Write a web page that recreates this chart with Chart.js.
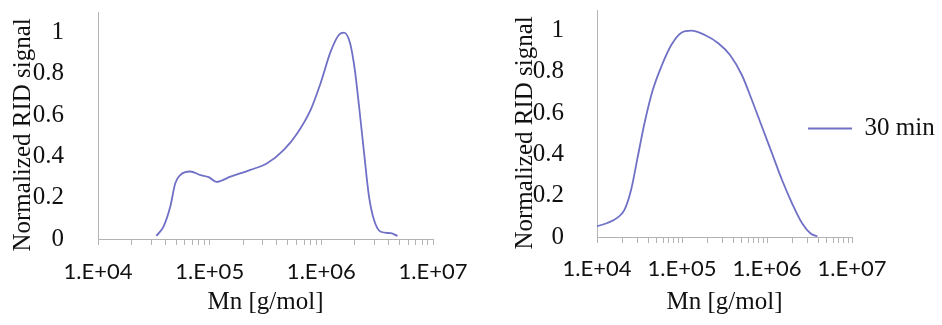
<!DOCTYPE html>
<html><head><meta charset="utf-8">
<script src="https://cdn.jsdelivr.net/npm/chart.js@4.4.0/dist/chart.umd.min.js"></script>
<style>
html,body{margin:0;padding:0;background:#fff;width:942px;height:325px;overflow:hidden}
#l{position:absolute;left:0;top:0;width:470px;height:325px}
#r{position:absolute;left:470px;top:0;width:472px;height:325px}
</style></head><body>
<div id="l"><canvas id="cl"></canvas></div>
<div id="r"><canvas id="cr"></canvas></div>
<script>
// ---- data ----
const mnLeft = [33300, 38600, 44400, 49200, 54600, 67100, 82600, 97900, 114800, 153500, 231700, 327300, 461300, 609500, 801700, 986300, 1213000, 1439000, 1596000, 1807000, 1995000, 2178000, 2415000, 2673000, 2965000, 3404000, 4188000, 4808000];
const signalLeft = [0.015, 0.06, 0.157, 0.27, 0.31, 0.327, 0.31, 0.30, 0.277, 0.302, 0.335, 0.367, 0.432, 0.513, 0.626, 0.756, 0.909, 0.99, 1.0, 0.95, 0.82, 0.642, 0.416, 0.205, 0.092, 0.035, 0.028, 0.015];
const mnRight = [10000, 13270, 17460, 20940, 25120, 30130, 36140, 45290, 57020, 74820, 98400, 129100, 185800, 267300, 367300, 505800, 663700, 873000, 1146000, 1507000, 1977000, 2600000, 3258000, 3908000];
const signalRight = [0.052, 0.068, 0.094, 0.13, 0.227, 0.388, 0.55, 0.712, 0.825, 0.93, 0.99, 1.0, 0.979, 0.939, 0.882, 0.785, 0.664, 0.534, 0.405, 0.275, 0.162, 0.065, 0.017, 0.003];
const seriesLabel = '30 min';
const xDecades = [1e4, 1e5, 1e6, 1e7];
const xTickLabels = ['1.E+04', '1.E+05', '1.E+06', '1.E+07'];
const xMinorMultipliers = [2, 3, 4, 5, 6, 7, 8, 9];
const yTickValues = [0, 0.2, 0.4, 0.6, 0.8, 1];
const yTickLabels = ['0', '0.2', '0.4', '0.6', '0.8', '1'];
const xTitle = 'Mn [g/mol]';
const yTitle = 'Normalized RID signal';

// ---- styling ----
const LINE = '#7070c6';
const AXIS = '#b3b3b3';
const TEXT = '#111111';
const SERIF = "'Liberation Serif', 'Times New Roman', serif";
const SANS = "Lato, 'Open Sans', sans-serif";

const xTickList = [];
xDecades.forEach((d, i) => {
  xTickList.push(d);
  if (i < xDecades.length - 1) xMinorMultipliers.forEach(m => xTickList.push(d * m));
});
xTickList.sort((a, b) => a - b);

const legendPlacer = {
  id: 'legendPlacer',
  afterLayout(chart, args, opts) {
    const lg = chart.legend;
    if (!lg || !opts || opts.left === undefined) return;
    const w = lg.width, h = lg.height;
    lg.left = opts.left; lg.top = opts.top;
    lg.right = lg.left + w; lg.bottom = lg.top + h;
  }
};

function makeChart(id, mn, sig, g) {
  const pts = mn.map((x, i) => ({ x: x, y: sig[i] }));
  return new Chart(document.getElementById(id), {
    type: 'line',
    data: { datasets: [{ label: seriesLabel, data: pts, borderColor: LINE, backgroundColor: LINE, borderWidth: 1.8, pointRadius: 0, pointHoverRadius: 0, tension: 0.4, cubicInterpolationMode: 'monotone', fill: false }] },
    plugins: [legendPlacer],
    options: {
      responsive: true, maintainAspectRatio: false, animation: false, events: [],
      layout: { padding: { left: 0, top: g.padTop, right: g.padRight, bottom: 0 } },
      plugins: {
        tooltip: { enabled: false },
        legend: g.legend ? {
          display: true, position: 'chartArea', align: 'start',
          labels: { usePointStyle: true, pointStyle: 'line', pointStyleWidth: 44, padding: 10, color: TEXT, font: { family: SERIF, size: 25 } }
        } : { display: false },
        legendPlacer: g.legend ? { left: g.legend.left, top: g.legend.top } : {}
      },
      scales: {
        x: {
          type: 'logarithmic', min: xDecades[0], max: xDecades[xDecades.length - 1],
          afterBuildTicks: s => { s.ticks = xTickList.map(v => ({ value: v })); },
          afterFit: s => { s.height = g.xAxisHeight; s.paddingLeft = 0; s.paddingRight = 0; },
          ticks: {
            autoSkip: false, maxRotation: 0, minRotation: 0, padding: g.tickPadX, color: TEXT,
            font: { family: SANS, size: 22 },
            callback: v => { const i = xDecades.indexOf(v); return i >= 0 ? xTickLabels[i] : ''; }
          },
          grid: { display: true, drawOnChartArea: false, drawTicks: true, tickLength: 6, color: AXIS, lineWidth: 1 },
          border: { display: true, color: AXIS, width: 1 },
          title: { display: true, text: xTitle, color: TEXT, font: { family: SERIF, size: 25, lineHeight: 1.2 }, padding: { top: 0, bottom: g.xTitlePad } }
        },
        y: {
          type: 'linear', min: 0, max: 1.1,
          afterBuildTicks: s => { s.ticks = yTickValues.map(v => ({ value: v })); },
          afterFit: s => { s.width = g.yAxisWidth; s.paddingTop = 0; s.paddingBottom = 0; },
          ticks: {
            padding: g.tickPadY, color: TEXT, font: { family: SERIF, size: 25 },
            callback: v => { const i = yTickValues.indexOf(v); return i >= 0 ? yTickLabels[i] : ''; }
          },
          grid: { display: false },
          border: { display: true, color: AXIS, width: 1 },
          // trailing spaces nudge the rotated title slightly downward, as in the original
          title: { display: true, text: yTitle + '   ', color: TEXT, font: { family: SERIF, size: 25, lineHeight: 1.2 }, padding: { top: g.yTitlePad, bottom: 0 } }
        }
      }
    }
  });
}

makeChart('cl', mnLeft, signalLeft, { padTop: 12, padRight: 37, xAxisHeight: 86, yAxisWidth: 98, tickPadX: 14, tickPadY: 26, xTitlePad: 8, yTitlePad: 8, legend: null });
makeChart('cr', mnRight, signalRight, { padTop: 10, padRight: 90, xAxisHeight: 88, yAxisWidth: 127, tickPadX: 13, tickPadY: 25, xTitlePad: 8, yTitlePad: 40, legend: { left: 328, top: 106 } });
</script>
</body></html>
